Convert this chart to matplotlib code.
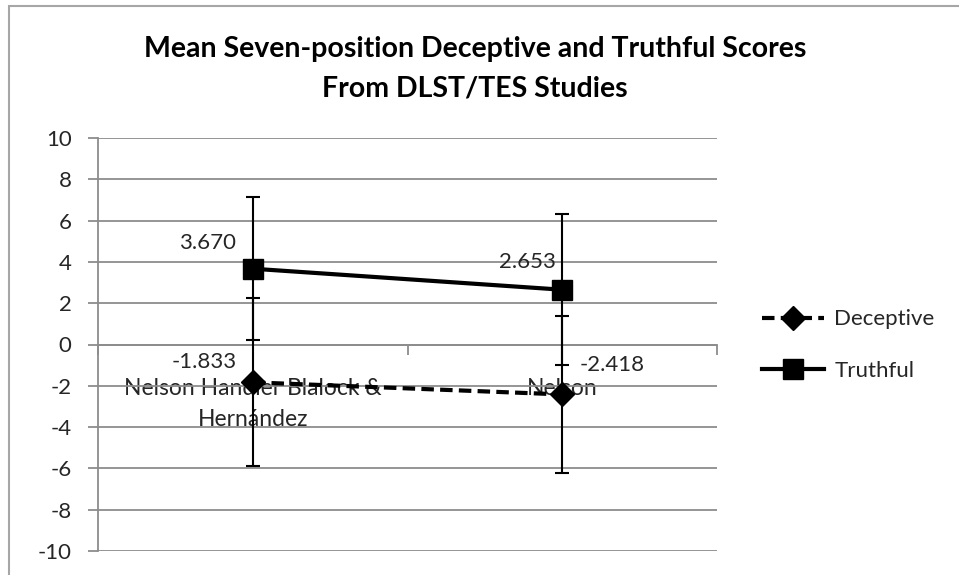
import numpy as np
import matplotlib.pyplot as plt
from matplotlib.patches import Rectangle
from matplotlib.ticker import FixedLocator

plt.rcParams['font.family'] = ['Lato', 'DejaVu Sans']
plt.rcParams['axes.unicode_minus'] = False

# data
categories = ['Nelson Handler Blalock &\nHernández', 'Nelson']
deceptive = [-1.833, -2.418]
truthful = [3.670, 2.653]
deceptive_err = [4.07, 3.80]
truthful_err = [3.45, 3.65]
yticks = list(range(-10, 11, 2))

txt = '#262626'
grid = '#8c8c8c'
fs = 16

fig = plt.figure(figsize=(9.59, 5.75), dpi=100)
ax = fig.add_axes([98/959, 1-551/575, (717-98)/959, (551-138)/575])

x = np.arange(len(categories))

ax.errorbar(x, deceptive, yerr=deceptive_err, fmt='none', ecolor='black',
            elinewidth=1.5, capsize=4.7, capthick=1.5, zorder=3)
ax.errorbar(x, truthful, yerr=truthful_err, fmt='none', ecolor='black',
            elinewidth=1.5, capsize=4.7, capthick=1.5, zorder=3)

ax.plot(x, deceptive, color='black', lw=3, ls=(0, (3, 1.5)), marker='D',
        markersize=12, label='Deceptive', zorder=4)
ax.plot(x, truthful, color='black', lw=3, ls='-', marker='s',
        markersize=14, label='Truthful', zorder=4)

# data labels
offs_d = [(-49, 20), (50, 29)]
offs_t = [(-45, 26), (-35, 28)]
for i in range(len(x)):
    ax.annotate('%.3f' % deceptive[i], (x[i], deceptive[i]), xytext=offs_d[i],
                textcoords='offset pixels', ha='center', va='center',
                fontsize=fs, color=txt, zorder=5)
    ax.annotate('%.3f' % truthful[i], (x[i], truthful[i]), xytext=offs_t[i],
                textcoords='offset pixels', ha='center', va='center',
                fontsize=fs, color=txt, zorder=5)

ax.set_xlim(-0.5, len(categories) - 0.5)
ax.set_ylim(-10, 10)
ax.set_yticks(yticks)
ax.yaxis.grid(True, color=grid, lw=1.3)
ax.set_axisbelow(True)

# category axis crosses at zero
ax.spines['bottom'].set_position(('data', 0))
ax.spines['bottom'].set_color(grid)
ax.spines['bottom'].set_linewidth(1.3)
ax.spines['left'].set_color(grid)
ax.spines['left'].set_linewidth(1.3)
ax.spines['top'].set_visible(False)
ax.spines['right'].set_visible(False)

ax.xaxis.set_major_locator(FixedLocator(np.arange(-0.5, len(categories), 1.0)))
ax.xaxis.set_major_formatter(plt.NullFormatter())
ax.xaxis.set_minor_locator(FixedLocator(x))
ax.set_xticklabels(categories, minor=True)
ax.tick_params(axis='x', which='major', direction='out', length=7,
               width=1.3, color=grid)
ax.tick_params(axis='x', which='minor', length=0, pad=24, labelsize=16.5,
               labelcolor=txt)
for lab in ax.get_xticklabels(minor=True):
    lab.set_linespacing(1.6)
ax.tick_params(axis='y', direction='out', length=7, width=1.3, color=grid,
               pad=12, labelsize=fs, labelcolor=txt)

fig.text(475/959, 1-69/575,
         'Mean Seven-position Deceptive and Truthful Scores\nFrom DLST/TES Studies',
         ha='center', va='center', fontsize=20.5, fontweight='bold',
         color='black', linespacing=1.65)

fig.legend(loc='center left', bbox_to_anchor=(742/959, 1-345/575), frameon=False,
           fontsize=fs, handlelength=2.8, handletextpad=0.45, labelspacing=1.4,
           numpoints=1, labelcolor=txt)

# chart area border
fig.patches.append(Rectangle((9/959, -0.1), 1.1, 1.1 - 6/575,
                             transform=fig.transFigure, fill=False,
                             edgecolor='#a6a6a6', lw=1.5))

fig.savefig('out.png', dpi=100)
